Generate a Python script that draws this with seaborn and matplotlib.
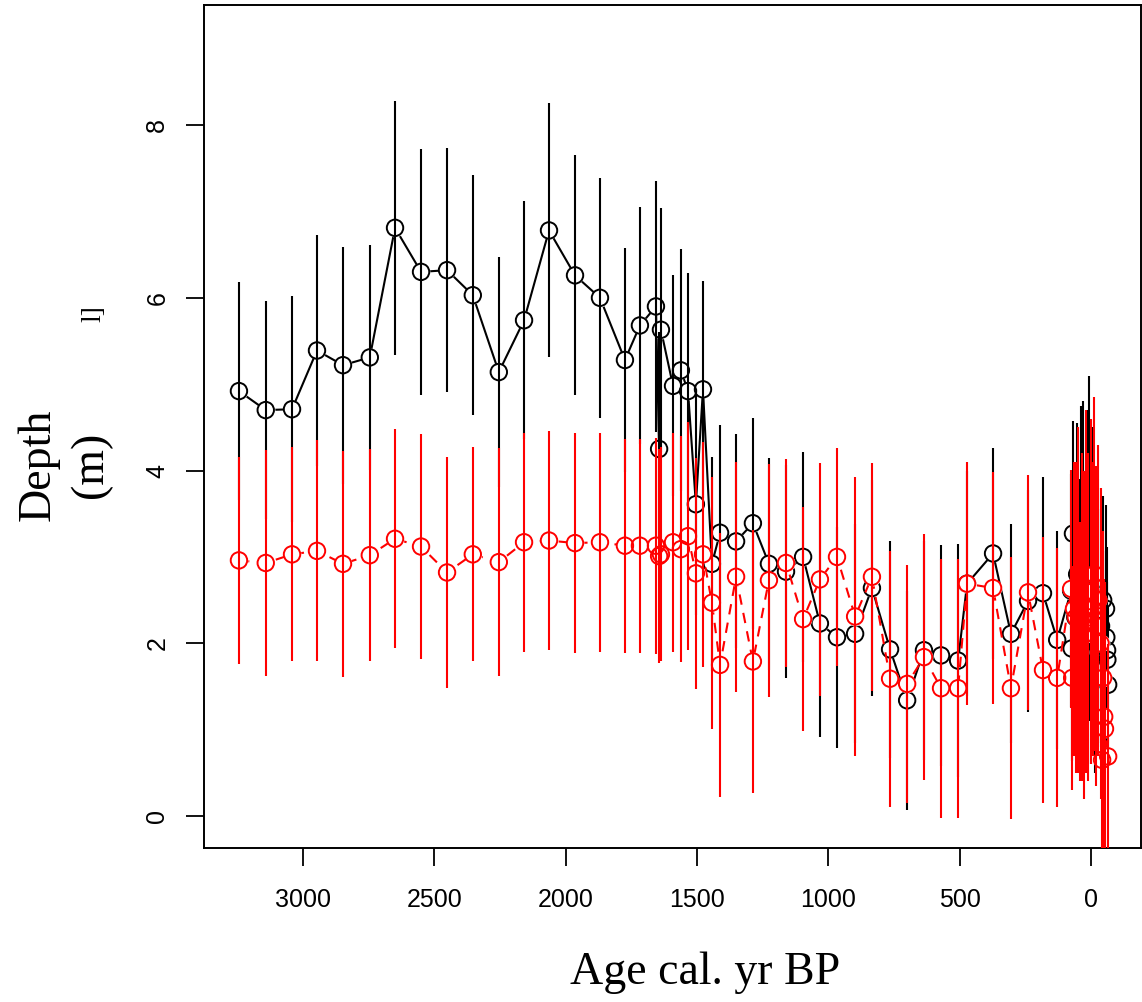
import numpy as np
import pandas as pd
import matplotlib
matplotlib.use("Agg")
import matplotlib.pyplot as plt
import seaborn as sns

# ---------------- data ----------------
age_black = [3243, 3141, 3041, 2946, 2847, 2745, 2649, 2550, 2451, 2353, 2254, 2158,
             2063, 1964, 1869, 1774, 1717, 1656, 1644, 1637, 1591, 1561, 1534, 1504,
             1477, 1443, 1412, 1351, 1287, 1226, 1161, 1096, 1032, 967, 898, 834,
             765, 700, 636, 571, 506, 472, 373, 305, 240, 183, 129,
             76, 74, 69, 60, 53, 45, 38, 30, 22, 14, 8, 0, -8, -15, -25, -38, -46,
             -57, -58, -61, -62, -65]
depth_black = [4.92, 4.70, 4.71, 5.39, 5.22, 5.31, 6.81, 6.30, 6.32, 6.03, 5.14, 5.74,
               6.78, 6.26, 6.00, 5.28, 5.68, 5.90, 4.25, 5.63, 4.98, 5.16, 4.92, 3.61,
               4.94, 2.92, 3.28, 3.18, 3.39, 2.92, 2.83, 3.00, 2.23, 2.07, 2.11, 2.64,
               1.93, 1.34, 1.92, 1.86, 1.80, 2.69, 3.04, 2.11, 2.49, 2.58, 2.04,
               2.61, 1.94, 3.27, 2.30, 2.80, 2.20, 3.00, 2.80, 2.40, 2.90, 3.10, 2.20,
               2.70, 1.60, 2.30, 2.20, 2.50, 2.40, 2.07, 1.92, 1.81, 1.52]
err_black = [1.26, 1.26, 1.31, 1.34, 1.37, 1.30, 1.47, 1.42, 1.41, 1.39, 1.33, 1.38,
             1.47, 1.39, 1.39, 1.30, 1.37, 1.45, 1.35, 1.41, 1.28, 1.40, 1.37, 1.28,
             1.26, 1.24, 1.25, 1.24, 1.22, 1.23, 1.23, 1.22, 1.31, 1.28, 1.27, 1.25,
             1.26, 1.27, 1.27, 1.28, 1.35, 1.30, 1.22, 1.27, 1.28, 1.35, 1.26,
             1.35, 1.30, 1.30, 1.60, 1.75, 1.70, 1.75, 2.00, 1.60, 1.80, 2.00, 1.60,
             1.80, 1.10, 1.50, 1.35, 1.20, 1.20, 1.00, 1.20, 0.90, 0.90]

age_red = [3243, 3141, 3041, 2946, 2847, 2745, 2649, 2550, 2451, 2353, 2254, 2158,
           2063, 1964, 1869, 1774, 1717, 1656, 1644, 1637, 1591, 1561, 1534, 1504,
           1477, 1443, 1412, 1351, 1287, 1226, 1161, 1096, 1032, 967, 898, 834,
           765, 700, 636, 571, 506, 472, 373, 305, 240, 183, 129,
           76, 72, 65, 58, 50, 42, 34, 26, 18, 10, 2, -6, -12, -20, -28, -36, -42,
           -46, -50, -53, -65]
depth_red = [2.96, 2.93, 3.03, 3.07, 2.92, 3.02, 3.21, 3.12, 2.82, 3.03, 2.94, 3.17,
             3.19, 3.16, 3.17, 3.13, 3.13, 3.13, 3.01, 3.03, 3.17, 3.09, 3.24, 2.81,
             3.03, 2.47, 1.75, 2.77, 1.79, 2.73, 2.93, 2.28, 2.74, 3.00, 2.31, 2.77,
             1.59, 1.53, 1.84, 1.48, 1.48, 2.69, 2.64, 1.48, 2.59, 1.69, 1.60,
             2.63, 1.60, 2.40, 2.30, 2.50, 1.90, 2.30, 2.10, 2.60, 2.30, 2.60, 2.40,
             2.80, 2.20, 2.50, 2.00, 0.65, 1.60, 1.15, 1.01, 0.69]
err_red = [1.20, 1.31, 1.24, 1.28, 1.31, 1.23, 1.27, 1.30, 1.34, 1.24, 1.32, 1.27,
           1.27, 1.27, 1.27, 1.24, 1.24, 1.25, 1.24, 1.24, 1.27, 1.31, 1.32, 1.34,
           1.30, 1.46, 1.53, 1.33, 1.52, 1.35, 1.20, 1.30, 1.35, 1.26, 1.61, 1.32,
           1.48, 1.38, 1.42, 1.50, 1.50, 1.41, 1.34, 1.52, 1.36, 1.54, 1.50,
           1.38, 1.30, 1.70, 1.80, 2.00, 1.50, 1.90, 1.90, 2.10, 1.90, 2.00, 1.70,
           2.05, 1.85, 1.80, 1.80, 1.40, 1.70, 1.60, 1.70, 1.30]

x_ticks = [3000, 2500, 2000, 1500, 1000, 500, 0]
y_ticks = [0, 2, 4, 6, 8]
x_label = "Age cal. yr BP"
y_label = "Depth\n(m)"

# ---------------- figure ----------------
sns.set_theme(style="white")
plt.rcParams["font.family"] = ["Liberation Sans", "DejaVu Sans"]
plt.rcParams["axes.edgecolor"] = "black"

W, H = 1142, 1002
fig = plt.figure(figsize=(W / 100, H / 100), dpi=100)
ax = fig.add_axes([204 / W, 1 - 848 / H, (1141 - 204) / W, (848 - 5) / H])


def draw_series(age, depth, err, color, ls, z):
    df = pd.DataFrame({"age": age, "depth": depth, "err": err})
    sns.lineplot(data=df, x="age", y="depth", sort=False, estimator=None,
                 color=color, linewidth=1.5, linestyle=ls, ax=ax, zorder=z)
    # white masks emulate R's type="b" gaps around points
    sns.scatterplot(data=df, x="age", y="depth", s=165, color="white",
                    linewidth=0, ax=ax, zorder=z + 0.1)
    ax.vlines(df["age"], df["depth"] - df["err"], df["depth"] + df["err"],
              color=color, linewidth=1.5, zorder=z + 0.2)
    sns.scatterplot(data=df, x="age", y="depth", s=140, facecolors="none",
                    edgecolor=color, linewidth=1.4, ax=ax, zorder=z + 0.3)


draw_series(age_black, depth_black, err_black, "black", "-", 2)
draw_series(age_red, depth_red, err_red, "red", (0, (5, 4)), 3)

ax.set_xlim(3376, -190)
ax.set_ylim(-0.37, 9.39)
ax.set_xticks(x_ticks)
ax.set_yticks(y_ticks)
ax.set_xticklabels([str(v) for v in x_ticks])
ax.set_yticklabels([str(v) for v in y_ticks])
ax.tick_params(axis="both", which="major", direction="out", length=13, width=1.3,
               labelsize=18, pad=16, color="black", labelcolor="black",
               bottom=True, left=True, top=False, right=False)
ax.tick_params(axis="y", labelrotation=90, pad=12)
for lab in ax.get_yticklabels():
    lab.set_va("center")
for sp in ax.spines.values():
    sp.set_visible(True)
    sp.set_color("black")
    sp.set_linewidth(1.4)
ax.grid(False)

serif = ["Liberation Serif", "DejaVu Serif"]
ax.set_xlabel(x_label, fontsize=33, family=serif, color="black")
ax.xaxis.label.set_va("center")
ax.xaxis.set_label_coords((705 - 204) / 937, (848 - 973) / 843)
ax.set_ylabel(y_label, fontsize=33, family=serif, color="black", linespacing=1.3)
ax.yaxis.label.set_va("center")
ax.yaxis.label.set_ha("center")
ax.yaxis.set_label_coords((65 - 204) / 937, (848 - 465) / 843)

fig.text(94 / W, 1 - 314 / H, "l]", rotation=90, fontsize=20,
         family=serif, ha="center", va="center", color="black")

fig.savefig("out.png", dpi=100, facecolor="white")
